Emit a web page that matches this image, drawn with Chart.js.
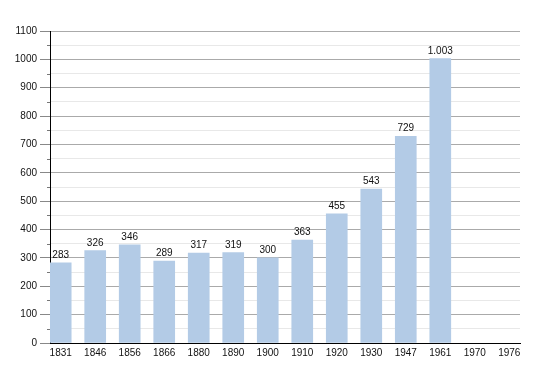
<!DOCTYPE html>
<html>
<head>
<meta charset="utf-8">
<script src="https://cdn.jsdelivr.net/npm/chart.js@4"></script>
<style>
  html, body { margin: 0; padding: 0; background: #fff; }
  #wrap { width: 550px; height: 373px; }
</style>
</head>
<body>
<div id="wrap"><canvas id="chart"></canvas></div>
<script>
// anni del censimento e abitanti
const years = ["1831", "1846", "1856", "1866", "1880", "1890", "1900", "1910", "1920", "1930", "1947", "1961", "1970", "1976"];
const inhabitants = [283, 326, 346, 289, 317, 319, 300, 363, 455, 543, 729, 1003, null, null];
const yTicks = [0, 100, 200, 300, 400, 500, 600, 700, 800, 900, 1000, 1100];

const fmt = (v) => String(v).replace(/\B(?=(\d{3})+(?!\d))/g, ".");

// numbers above the bars
const barLabels = {
  id: "barLabels",
  afterDatasetsDraw(chart) {
    const ctx = chart.ctx;
    const meta = chart.getDatasetMeta(0);
    ctx.save();
    ctx.font = "10px 'Liberation Sans', Arial, sans-serif";
    ctx.fillStyle = "#111";
    ctx.textAlign = "center";
    ctx.textBaseline = "alphabetic";
    meta.data.forEach((bar, i) => {
      const v = meta._parsed[i].y;
      if (v == null) return;
      ctx.fillText(fmt(v), bar.x, bar.y - 5);
    });
    ctx.restore();
  }
};

// short minor ticks on the y axis
const minorTicks = {
  id: "minorTicks",
  afterDraw(chart) {
    const ctx = chart.ctx;
    const y = chart.scales.y;
    ctx.save();
    ctx.strokeStyle = "#777";
    ctx.lineWidth = 1;
    for (let v = 50; v < 1100; v += 100) {
      const py = Math.round(y.getPixelForValue(v)) + 0.5;
      ctx.beginPath();
      ctx.moveTo(y.right - 3, py);
      ctx.lineTo(y.right, py);
      ctx.stroke();
    }
    ctx.restore();
  }
};

new Chart(document.getElementById("chart"), {
  type: "bar",
  data: {
    datasets: [{
      data: inhabitants.map((v, i) => ({ x: i, y: v })).filter(p => p.y != null),
      backgroundColor: "#b3cbe6",
      barThickness: 21
    }]
  },
  options: {
    responsive: true,
    maintainAspectRatio: false,
    animation: false,
    layout: { padding: { top: 31, right: 30, bottom: 10, left: 0 } },
    plugins: { legend: { display: false }, tooltip: { enabled: false } },
    scales: {
      x: {
        type: "linear",
        offset: false,
        min: -0.31,
        max: 13.31,
        afterBuildTicks: (axis) => { axis.ticks = years.map((_, i) => ({ value: i })); },
        afterFit: (axis) => { axis.height = 20; },
        grid: { display: false, drawTicks: false },
        border: { display: true, color: "#000", width: 1 },
        ticks: {
          padding: 4,
          color: "#111",
          font: { size: 10, family: "'Liberation Sans', Arial, sans-serif" },
          maxRotation: 0,
          autoSkip: false,
          callback: (v) => years[v]
        }
      },
      y: {
        min: 0,
        max: 1100,
        afterBuildTicks: (axis) => {
          const t = [];
          for (let v = 0; v <= 1100; v += 50) t.push({ value: v });
          axis.ticks = t;
        },
        afterFit: (axis) => { axis.width = 50; },
        grid: {
          color: (c) => (c.tick.value % 100 === 0 ? "#aaaaaa" : "#e8e8e8"),
          tickColor: (c) => (c.tick.value % 100 === 0 ? "#888" : "rgba(0,0,0,0)"),
          tickLength: 10,
          lineWidth: 1
        },
        border: { display: true, color: "#000", width: 1 },
        ticks: {
          padding: 3,
          color: "#111",
          font: { size: 10, family: "'Liberation Sans', Arial, sans-serif" },
          autoSkip: false,
          callback: (v) => (yTicks.includes(v) ? String(v) : "")
        }
      }
    }
  },
  plugins: [barLabels, minorTicks]
});
</script>
</body>
</html>
